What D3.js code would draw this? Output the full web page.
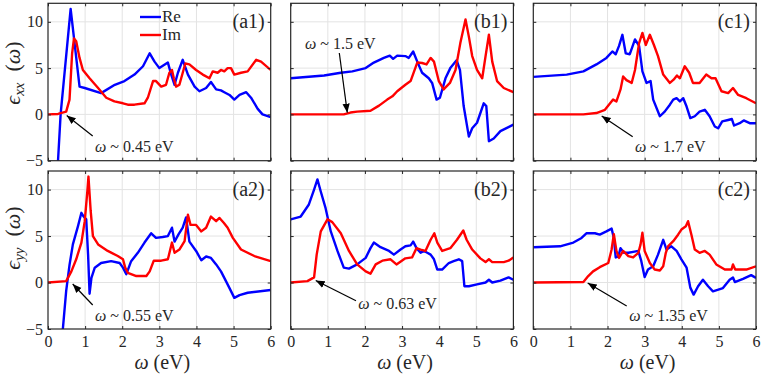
<!DOCTYPE html>
<html><head><meta charset="utf-8">
<script src="https://cdn.jsdelivr.net/npm/d3@7"></script>
<style>body{margin:0;background:#fff}svg{display:block}</style>
</head><body>
<script>
const xTicks = [0,1,2,3,4,5,6];
const yTicks = [-5,0,5,10];
const legendLabels = ["Re","Im"];
const panelLabels = ["(a1)","(b1)","(c1)","(a2)","(b2)","(c2)"];
const yLabels = ["xx","yy"];
const notes = ["0.45","1.5","1.7","0.55","0.63","1.35"];

const a1Re = [[0.25,-6],[0.27,-5],[0.34,0],[0.61,11.4],[0.85,3.0],[0.99,2.85],[1.43,2.3],[1.8,3.2],[2.06,3.6],[2.33,4.3],[2.56,5.2],[2.74,6.6],[2.87,5.7],[3.0,5.0],[3.23,5.6],[3.32,4.3],[3.41,3.2],[3.5,4.5],[3.63,5.9],[3.77,4.3],[3.95,3.0],[4.08,2.5],[4.26,2.85],[4.39,3.5],[4.53,2.7],[4.66,2.6],[4.75,2.4],[4.89,2.1],[5.02,1.6],[5.16,2.1],[5.34,2.4],[5.47,1.8],[5.65,0.6],[5.78,0],[6.0,-0.3]];
const a1Im = [[0,0],[0.27,0.05],[0.49,0.3],[0.58,1.6],[0.65,6.6],[0.7,8.2],[0.76,7.9],[0.85,6.1],[0.94,4.8],[1.12,3.9],[1.35,2.85],[1.57,1.8],[1.79,1.4],[2.02,1.2],[2.15,1.05],[2.33,1.05],[2.6,1.2],[2.69,1.8],[2.83,3.6],[2.91,3.6],[3.05,3.0],[3.18,3.2],[3.27,4.5],[3.34,4.8],[3.39,3.9],[3.45,3.0],[3.54,3.2],[3.63,4.5],[3.7,5.5],[3.81,5.4],[3.99,4.8],[4.17,4.3],[4.35,3.9],[4.44,4.65],[4.57,4.5],[4.66,4.8],[4.75,4.65],[4.84,5.0],[4.93,5.0],[5.02,4.3],[5.2,4.5],[5.38,4.65],[5.61,5.9],[5.74,5.7],[6.0,4.8]];
const b1Re = [[0,3.9],[0.9,4.2],[1.35,4.5],[1.66,4.65],[2.02,5.0],[2.24,5.6],[2.51,6.1],[2.67,6.35],[2.76,6.0],[2.87,6.35],[3.09,6.3],[3.18,6.1],[3.3,6.8],[3.41,5.7],[3.54,4.5],[3.72,3.9],[3.81,3.4],[3.93,1.6],[4.02,1.8],[4.17,3.9],[4.3,5.0],[4.47,5.85],[4.56,4.8],[4.66,0.9],[4.8,-2.4],[4.89,-1.5],[5.02,-0.9],[5.2,1.2],[5.27,0.9],[5.34,-2.9],[5.47,-2.6],[5.65,-1.8],[6.0,-1.1]];
const b1Im = [[0,0],[1.43,0],[1.61,0.2],[1.79,0.3],[2.15,0.4],[2.38,0.95],[2.6,1.6],[2.74,1.95],[2.87,2.5],[3.09,3.2],[3.23,3.6],[3.41,5.6],[3.54,5.55],[3.66,5.4],[3.77,6.1],[3.86,5.7],[3.99,3.6],[4.12,2.7],[4.29,3.4],[4.44,4.8],[4.57,7.7],[4.71,10.25],[4.8,8.4],[4.89,6.3],[5.02,4.8],[5.16,3.9],[5.25,6.3],[5.34,8.6],[5.43,5.7],[5.56,3.6],[5.74,2.85],[6.0,2.4]];
const c1Re = [[0,4.05],[0.9,4.3],[1.35,4.65],[1.7,5.4],[1.97,6.1],[2.13,6.8],[2.22,6.5],[2.31,7.4],[2.4,8.6],[2.49,6.6],[2.6,6.5],[2.74,8.1],[2.85,7.4],[2.94,4.65],[3.05,3.4],[3.16,3.6],[3.23,1.6],[3.41,-0.2],[3.54,0.3],[3.68,1.05],[3.77,1.6],[3.86,1.75],[3.95,1.4],[4.04,1.75],[4.13,0.85],[4.23,-0.4],[4.35,-0.2],[4.48,0.3],[4.62,0.5],[4.75,-0.2],[4.89,-1.3],[4.98,-1.5],[5.09,-0.75],[5.25,-0.6],[5.35,-0.5],[5.41,-1.2],[5.56,-0.95],[5.67,-0.65],[5.83,-0.95],[6.0,-0.95]];
const c1Im = [[0,0],[1.35,0],[1.7,0.15],[1.93,0.5],[2.15,1.6],[2.24,1.4],[2.35,2.7],[2.42,4.1],[2.51,3.7],[2.65,3.4],[2.74,4.8],[2.85,7.7],[2.94,8.8],[3.03,7.5],[3.14,8.6],[3.25,7.5],[3.36,6.3],[3.5,4.3],[3.68,3.4],[3.78,3.75],[3.87,4.2],[3.95,3.9],[4.08,5.2],[4.2,4.5],[4.3,3.4],[4.48,3.4],[4.66,4.3],[4.8,3.9],[4.91,3.9],[5.07,2.5],[5.25,2.3],[5.38,2.85],[5.52,2.1],[5.74,1.75],[6.0,1.2]];
const a2Re = [[0.38,-6],[0.4,-5],[0.49,-0.9],[0.58,1.9],[0.67,4.1],[0.81,6.1],[0.9,7.5],[0.96,7.1],[1.03,6.8],[1.08,3.0],[1.12,-1.2],[1.17,0.5],[1.26,1.6],[1.43,2.1],[1.7,2.3],[1.93,2.1],[2.02,1.6],[2.11,0.9],[2.24,2.3],[2.42,3.2],[2.6,4.3],[2.78,5.3],[2.91,4.8],[3.09,4.9],[3.23,5.0],[3.34,5.9],[3.41,4.4],[3.52,5.2],[3.63,5.9],[3.72,7.0],[3.81,4.4],[3.99,3.4],[4.13,2.4],[4.26,2.8],[4.39,2.65],[4.53,1.95],[4.66,1.2],[4.75,0.5],[4.89,-0.6],[5.02,-1.65],[5.16,-1.35],[5.38,-1.1],[6.0,-0.8]];
const a2Im = [[0,0],[0.49,0.15],[0.63,1.2],[0.76,2.5],[0.9,4.3],[0.99,6.6],[1.06,9.8],[1.09,11.4],[1.15,7.7],[1.21,5.0],[1.35,4.1],[1.61,3.4],[1.88,2.85],[2.02,2.5],[2.08,1.6],[2.15,1.05],[2.38,0.7],[2.65,0.7],[2.74,1.2],[2.85,2.35],[3.05,2.35],[3.23,2.5],[3.34,4.3],[3.41,3.2],[3.54,3.55],[3.68,4.45],[3.77,7.3],[3.84,6.2],[3.99,6.2],[4.13,5.5],[4.26,5.9],[4.39,7.1],[4.53,6.6],[4.62,6.95],[4.74,6.4],[4.84,5.9],[4.98,4.8],[5.2,3.55],[5.56,2.85],[6.0,2.3]];
const b2Re = [[0,6.8],[0.27,7.1],[0.49,8.4],[0.63,10.0],[0.72,11.1],[0.81,9.8],[0.94,8.0],[1.08,5.5],[1.26,3.4],[1.43,1.6],[1.57,1.5],[1.79,1.95],[2.02,2.65],[2.15,3.7],[2.24,4.3],[2.42,3.8],[2.65,3.4],[2.78,3.0],[2.96,3.55],[3.09,3.9],[3.23,4.0],[3.3,4.4],[3.39,3.7],[3.5,3.2],[3.59,3.4],[3.68,3.2],[3.77,3.0],[3.86,2.5],[3.95,1.4],[4.08,1.4],[4.26,2.1],[4.39,2.3],[4.53,2.5],[4.62,2.3],[4.68,-0.4],[4.8,-0.4],[5.02,-0.2],[5.25,0],[5.34,0.3],[5.43,0],[5.65,0.2],[5.87,0.55],[6.0,0.3]];
const b2Im = [[0,0],[0.45,0.15],[0.63,0.55],[0.7,3.0],[0.81,5.5],[0.99,6.8],[1.12,6.5],[1.35,5.3],[1.57,3.4],[1.79,1.95],[2.02,1.2],[2.15,0.95],[2.29,1.95],[2.47,2.35],[2.69,2.5],[2.85,1.95],[3.09,2.6],[3.27,2.7],[3.39,3.7],[3.5,3.55],[3.63,3.4],[3.77,4.6],[3.87,5.3],[3.95,4.3],[4.08,3.4],[4.3,3.7],[4.48,4.6],[4.65,5.6],[4.74,4.6],[4.89,3.55],[5.11,2.6],[5.25,2.2],[5.34,2.5],[5.43,2.2],[5.74,2.2],[5.87,2.35],[6.0,2.7]];
const c2Re = [[0,3.8],[0.72,3.9],[1.08,4.3],[1.3,4.8],[1.43,5.3],[1.66,5.3],[1.79,5.15],[1.97,5.5],[2.11,5.8],[2.17,4.8],[2.22,2.7],[2.29,2.8],[2.35,3.7],[2.44,3.2],[2.56,3.2],[2.69,3.3],[2.83,3.4],[2.91,2.3],[3.0,0.6],[3.09,1.4],[3.23,1.75],[3.36,3.0],[3.5,4.6],[3.59,3.55],[3.72,3.9],[3.86,3.4],[3.99,2.5],[4.13,1.6],[4.23,-0.55],[4.32,-1.3],[4.44,-0.4],[4.57,0.3],[4.71,-0.4],[4.84,-0.95],[5.11,-0.6],[5.29,0.3],[5.38,0.55],[5.43,0.05],[5.65,0.4],[5.87,0.8],[6.0,0.5]];
const c2Im = [[0,0],[1.35,0.05],[1.48,0.7],[1.61,1.2],[1.79,1.65],[2.02,2.1],[2.11,3.55],[2.17,5.2],[2.24,3.4],[2.31,2.65],[2.42,3.4],[2.56,2.85],[2.69,2.7],[2.83,3.2],[2.89,4.1],[2.94,5.35],[3.0,3.4],[3.14,2.1],[3.27,1.4],[3.41,1.3],[3.5,1.75],[3.57,3.2],[3.63,3.9],[3.77,4.45],[3.9,5.15],[3.99,5.7],[4.11,6.05],[4.17,6.6],[4.26,5.15],[4.35,3.55],[4.48,3.2],[4.62,3.4],[4.75,3.0],[4.93,1.95],[5.16,1.4],[5.34,1.4],[5.38,1.95],[5.44,1.4],[5.74,1.4],[6.0,1.75]];

const series = [[a1Re,a1Im],[b1Re,b1Im],[c1Re,c1Im],[a2Re,a2Im],[b2Re,b2Im],[c2Re,c2Im]];
const FONT = '"Liberation Serif", "Times New Roman", Times, "DejaVu Serif", serif';
const colsX = [48, 290.7, 533.3];
const pw = 222.7;
const rowsY = [[3.3,160.7],[171,329]];
const arrows = [
  {tail:[92.7,136], head:[66.7,115.5], tx:95, ty:152},
  {tail:[339.3,53], head:[347.3,112.7], tx:305, ty:49},
  {tail:[632.7,136.7], head:[601.7,116], tx:635, ty:152},
  {tail:[92.7,305], head:[72.7,284], tx:95, ty:321},
  {tail:[356,300.7], head:[315.7,280.5], tx:358.3, ty:309},
  {tail:[626.7,306], head:[587.7,283], tx:629.3, ty:321}
];

const svg = d3.select("body").append("svg").attr("width",764).attr("height",377)
  .style("font-family",FONT);
const defs = svg.append("defs");
defs.append("marker").attr("id","ah").attr("viewBox","0 0 10 10").attr("refX",10).attr("refY",5)
  .attr("markerWidth",9).attr("markerHeight",9).attr("markerUnits","userSpaceOnUse").attr("orient","auto")
  .append("path").attr("d","M0,1 L10,5 L0,9 z").attr("fill","#000");

const colors = ["#0000ff","#ff0000"];
function txt(sel){ return sel.style("font-family",FONT).attr("fill","#262626"); }

series.forEach((s,i)=>{
  const r = Math.floor(i/3), c = i%3;
  const x0 = colsX[c], [yTop,yBot] = rowsY[r];
  const x = d3.scaleLinear().domain([0,6]).range([x0,x0+pw]);
  const y = d3.scaleLinear().domain([-5,12]).range([yBot,yTop]);
  const g = svg.append("g");
  g.selectAll(".gx").data(xTicks.slice(1,-1)).enter().append("line")
    .attr("x1",d=>x(d)).attr("x2",d=>x(d)).attr("y1",yTop).attr("y2",yBot)
    .attr("stroke","#e3e3e3").attr("stroke-width",1);
  g.selectAll(".gy").data(yTicks.slice(1)).enter().append("line")
    .attr("y1",d=>y(d)).attr("y2",d=>y(d)).attr("x1",x0).attr("x2",x0+pw)
    .attr("stroke","#e3e3e3").attr("stroke-width",1);
  const cid = "clip"+i;
  defs.append("clipPath").attr("id",cid).append("rect").attr("x",x0).attr("y",yTop).attr("width",pw).attr("height",yBot-yTop);
  const line = d3.line().x(d=>x(d[0])).y(d=>y(d[1]));
  s.forEach((d,k)=>{
    g.append("path").datum(d).attr("d",line).attr("fill","none").attr("stroke",colors[k])
      .attr("stroke-width",2.4).attr("stroke-linejoin","round").attr("clip-path",`url(#${cid})`);
  });
  const ax = d3.axisBottom(x).tickValues(xTicks).tickSize(-3).tickPadding(7).tickFormat(r===1?d3.format("d"):"");
  const ay = d3.axisLeft(y).tickValues(yTicks).tickSize(-3).tickPadding(5).tickFormat(c===0?d3.format("d"):"");
  const axT = d3.axisTop(x).tickValues(xTicks).tickSize(-3).tickFormat("");
  const ayR = d3.axisRight(y).tickValues(yTicks).tickSize(-3).tickFormat("");
  [[ax,`translate(0,${yBot})`],[ay,`translate(${x0},0)`],[axT,`translate(0,${yTop})`],[ayR,`translate(${x0+pw},0)`]].forEach(([a,t])=>{
    const ga = g.append("g").attr("transform",t).call(a);
    ga.attr("font-family",null);
    ga.select(".domain").remove();
    ga.selectAll("line").attr("stroke","#262626");
    txt(ga.selectAll("text")).attr("font-size",16);
  });
  g.append("rect").attr("x",x0).attr("y",yTop).attr("width",pw).attr("height",yBot-yTop)
    .attr("fill","none").attr("stroke","#262626").attr("stroke-width",1.2);
  txt(g.append("text")).attr("x",x0+pw-6).attr("y",yTop+25).attr("text-anchor","end").attr("font-size",20).text(panelLabels[i]);
  const a = arrows[i];
  g.append("line").attr("x1",a.tail[0]).attr("y1",a.tail[1]).attr("x2",a.head[0]).attr("y2",a.head[1])
    .attr("stroke","#000").attr("stroke-width",1.2).attr("marker-end","url(#ah)");
  const t = txt(g.append("text")).attr("x",a.tx).attr("y",a.ty).attr("font-size",16);
  t.append("tspan").attr("font-style","italic").text("ω");
  t.append("tspan").text(" ~ "+notes[i]+" eV");
  if(r===1){
    const xl = txt(g.append("text")).attr("x",x0+pw/2+3).attr("y",369).attr("text-anchor","middle").attr("font-size",20);
    xl.append("tspan").attr("font-style","italic").text("ω");
    xl.append("tspan").text("  (eV)");
  }
  if(c===0){
    const cy = r===0 ? 73 : 238;
    const yl = txt(g.append("text")).attr("transform",`translate(20,${cy}) rotate(-90)`).attr("text-anchor","middle").attr("font-size",22);
    yl.append("tspan").attr("font-style","italic").text("ϵ");
    yl.append("tspan").attr("font-style","italic").attr("font-size",15).attr("dy",4).text(yLabels[r]);
    yl.append("tspan").attr("dy",-4).text("\u00a0\u00a0(");
    yl.append("tspan").attr("font-style","italic").text("ω");
    yl.append("tspan").text(")");
  }
  if(i===0){
    legendLabels.forEach((lb,k)=>{
      const ly = 17 + k*18;
      g.append("line").attr("x1",140).attr("x2",161).attr("y1",ly).attr("y2",ly).attr("stroke",colors[k]).attr("stroke-width",2.4);
      txt(g.append("text")).attr("x",162).attr("y",ly+5).attr("font-size",17).text(lb);
    });
  }
});
</script>
</body></html>
